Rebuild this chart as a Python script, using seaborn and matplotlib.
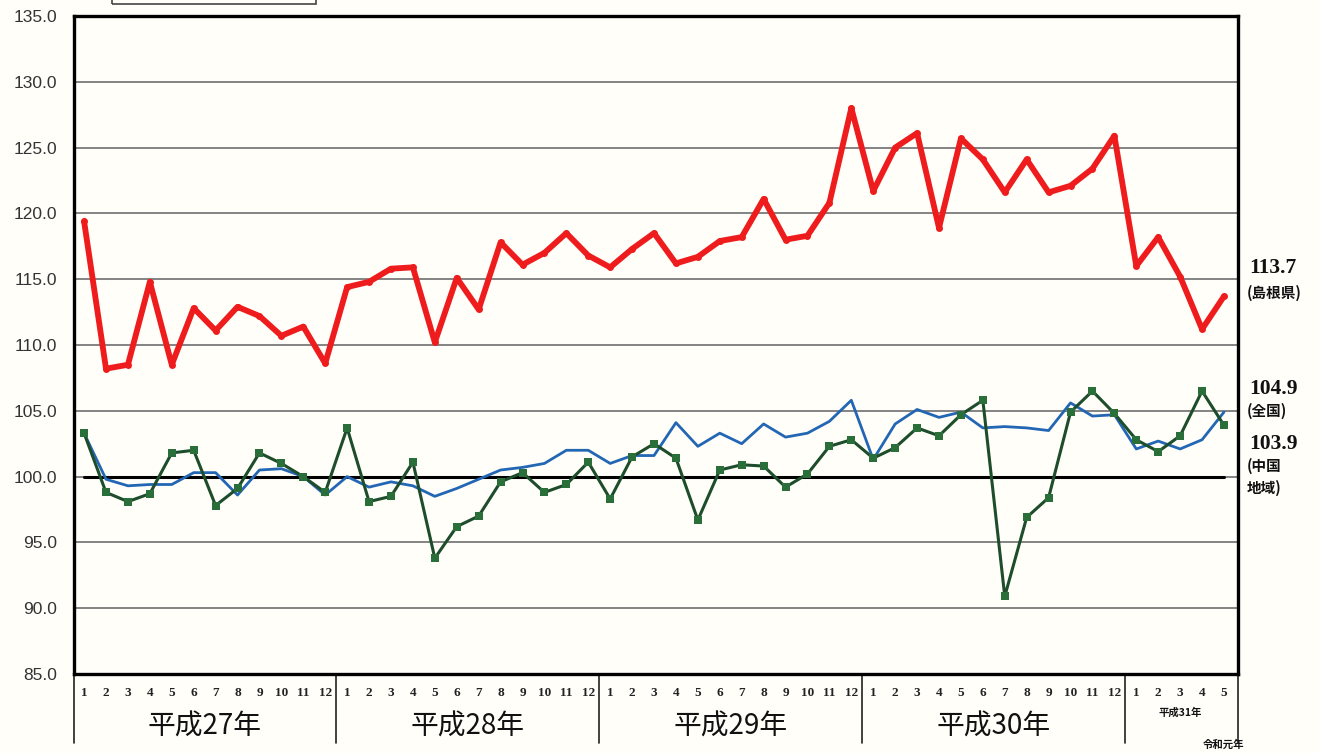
import numpy as np
import pandas as pd
import matplotlib
matplotlib.use('Agg')
import matplotlib.pyplot as plt
import matplotlib.transforms as mtransforms
import seaborn as sns

# 平成27年1月 ～ 令和元年5月
months = list(range(1, 13)) * 4 + [1, 2, 3, 4, 5]
years = ['平成27年', '平成28年', '平成29年', '平成30年']

shimane = [119.4, 108.2, 108.5, 114.8, 108.5, 112.8, 111.1, 112.9, 112.2, 110.7, 111.4, 108.6,
           114.4, 114.8, 115.8, 115.9, 110.2, 115.1, 112.7, 117.8, 116.1, 117.0, 118.5, 116.8,
           115.9, 117.3, 118.5, 116.2, 116.7, 117.9, 118.2, 121.1, 118.0, 118.3, 120.8, 128.0,
           121.7, 125.0, 126.1, 118.9, 125.7, 124.1, 121.6, 124.1, 121.6, 122.1, 123.4, 125.9,
           116.0, 118.2, 115.2, 111.2, 113.7]
zenkoku = [103.3, 99.8, 99.3, 99.4, 99.4, 100.3, 100.3, 98.6, 100.5, 100.6, 100.0, 98.6,
           100.0, 99.2, 99.6, 99.3, 98.5, 99.1, 99.8, 100.5, 100.7, 101.0, 102.0, 102.0,
           101.0, 101.6, 101.6, 104.1, 102.3, 103.3, 102.5, 104.0, 103.0, 103.3, 104.2, 105.8,
           101.3, 104.0, 105.1, 104.5, 104.9, 103.7, 103.8, 103.7, 103.5, 105.6, 104.6, 104.7,
           102.1, 102.7, 102.1, 102.8, 104.9]
chugoku = [103.3, 98.8, 98.1, 98.7, 101.8, 102.0, 97.8, 99.1, 101.8, 101.0, 100.0, 98.8,
           103.7, 98.1, 98.5, 101.1, 93.8, 96.2, 97.0, 99.6, 100.3, 98.8, 99.4, 101.1,
           98.3, 101.5, 102.5, 101.4, 96.7, 100.5, 100.9, 100.8, 99.2, 100.2, 102.3, 102.8,
           101.4, 102.2, 103.7, 103.1, 104.7, 105.8, 90.9, 96.9, 98.4, 104.9, 106.5, 104.8,
           102.8, 101.9, 103.1, 106.5, 103.9]

idx = np.arange(1, len(months) + 1)
df = pd.DataFrame({'t': idx, 'shimane': shimane, 'zenkoku': zenkoku, 'chugoku': chugoku})

sns.set_style('white')
plt.rcParams['font.family'] = ['Liberation Sans', 'Noto Sans CJK JP', 'DejaVu Sans']

fig = plt.figure(figsize=(13.19, 7.53), dpi=100, facecolor='#fffef9')
ax = fig.add_axes([74 / 1319, 1 - 674 / 753, 1164 / 1319, 658 / 753])
ax.set_facecolor('#fffef9')

for y in np.arange(85, 136, 5):
    ax.axhline(y, color='#7a7a7a', lw=1.3, zorder=1)
ax.plot([1, 53], [100, 100], color='black', lw=2.2, zorder=2)

sns.lineplot(data=df, x='t', y='zenkoku', color='#2367b4', lw=2.0, ax=ax, zorder=3)
sns.lineplot(data=df, x='t', y='chugoku', color='#1d4d2b', lw=2.2, marker='s',
             markersize=5.5, markeredgewidth=0, markerfacecolor='#2a6e3a', ax=ax, zorder=4)
sns.lineplot(data=df, x='t', y='shimane', color='#ee1c1c', lw=4.2, marker='o',
             markersize=5, markeredgewidth=0, ax=ax, zorder=5)

ax.set_xlim(0.54, 53.64)
ax.set_ylim(85, 135)
ax.set_yticks(np.arange(85, 136, 5))
ax.set_yticklabels([f'{v:.1f}' for v in np.arange(85, 136, 5)], fontsize=12.5, color='#333333')
ax.set_xticks(idx)
ax.set_xticklabels([str(m) for m in months], fontsize=9.5, family=['Liberation Serif'],
                   fontweight='bold', color='#222222')
ax.tick_params(axis='both', length=0)
ax.tick_params(axis='x', pad=9)
ax.tick_params(axis='y', pad=12)
ax.set_xlabel('')
ax.set_ylabel('')
for s in ax.spines.values():
    s.set_visible(True)
    s.set_color('black')
    s.set_linewidth(2.4)

# year separators and year labels below the axis
trans = mtransforms.blended_transform_factory(ax.transData, ax.transAxes)
for xs in [0.54, 12.5, 24.5, 36.5, 48.5, 53.62]:
    ax.plot([xs, xs], [0, -0.105], color='#222222', lw=1.2, transform=trans, clip_on=False)
for i, yl in enumerate(years):
    ax.text(12 * i + 6.5, -0.08, yl, transform=trans, ha='center', va='center',
            fontsize=20, family=['Noto Sans CJK JP'], color='#111111')
ax.text(51.0, -0.058, '平成31年', transform=trans, ha='center', va='center',
        fontsize=7.5, family=['Noto Sans CJK JP'], fontweight='bold', color='#111111')
ax.text(53.0, -0.108, '令和元年', transform=trans, ha='center', va='center',
        fontsize=7.5, family=['Noto Sans CJK JP'], fontweight='bold', color='#111111')

# right-hand value labels
lab_kw = dict(transform=fig.transFigure, ha='left', va='center', color='#111111')
num_kw = dict(fontsize=15.5, family=['Liberation Serif'], fontweight='bold')
txt_kw = dict(fontsize=10.5, family=['Noto Sans CJK JP'], fontweight='bold')
fig.text(1249 / 1319, 1 - 268 / 753, '113.7', **num_kw, **lab_kw)
fig.text(1247 / 1319, 1 - 293 / 753, '(島根県)', **txt_kw, **lab_kw)
fig.text(1249 / 1319, 1 - 389 / 753, '104.9', **num_kw, **lab_kw)
fig.text(1247 / 1319, 1 - 411 / 753, '(全国)', **txt_kw, **lab_kw)
fig.text(1249 / 1319, 1 - 444 / 753, '103.9', **num_kw, **lab_kw)
fig.text(1247 / 1319, 1 - 466 / 753, '(中国', **txt_kw, **lab_kw)
fig.text(1247 / 1319, 1 - 488 / 753, '地域)', **txt_kw, **lab_kw)

# edge of legend box cut off at the top
fig.patches.append(plt.Rectangle((112 / 1319, 1 - 4 / 753), 204 / 1319, 10 / 753,
                                 transform=fig.transFigure, fill=False, ec='#444444', lw=1.2))

fig.savefig('out.png', dpi=100, facecolor=fig.get_facecolor())
